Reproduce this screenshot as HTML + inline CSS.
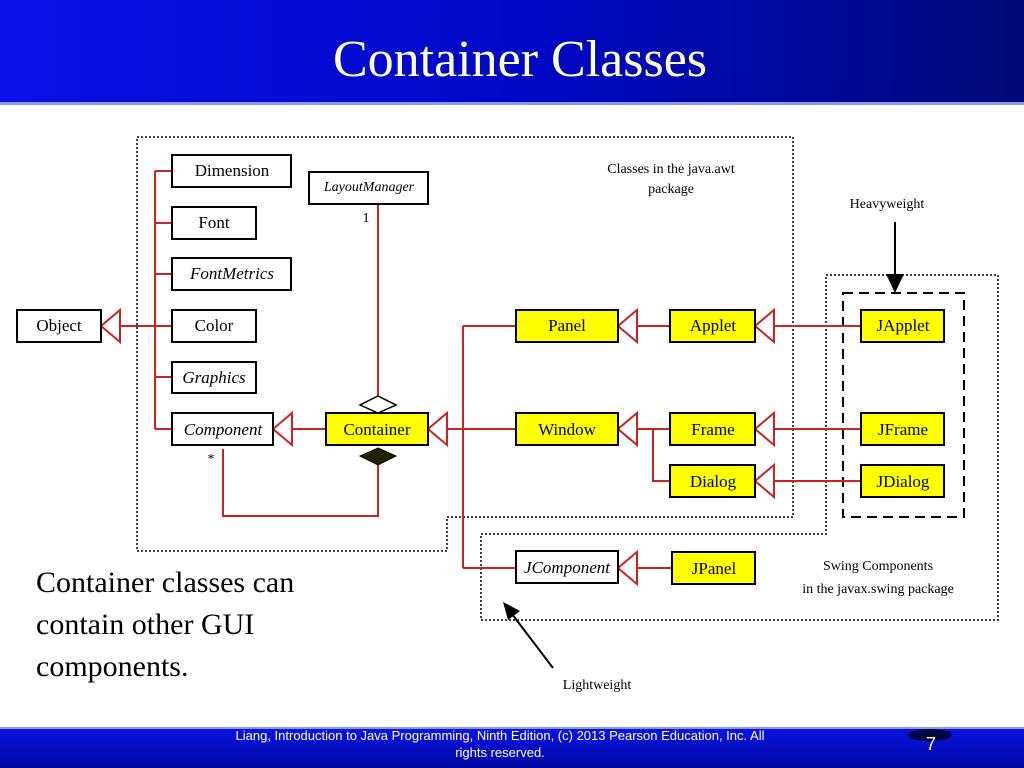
<!DOCTYPE html>
<html><head><meta charset="utf-8"><style>
html,body{margin:0;padding:0;width:1024px;height:768px;overflow:hidden;background:#fff}
</style></head><body>
<svg width="1024" height="768" viewBox="0 0 1024 768" xmlns="http://www.w3.org/2000/svg" font-family="Liberation Serif, serif">
<defs>
<linearGradient id="hg" x1="0" x2="1" y1="0" y2="0">
<stop offset="0" stop-color="#0a12e6"/><stop offset="0.5" stop-color="#0008c8"/><stop offset="1" stop-color="#020a78"/>
</linearGradient>
<linearGradient id="fg" x1="0" x2="0" y1="0" y2="1">
<stop offset="0" stop-color="#0a14e0"/><stop offset="1" stop-color="#0008a0"/>
</linearGradient>
</defs>
<rect x="0" y="0" width="1024" height="102" fill="url(#hg)"/>
<rect x="0" y="102" width="1024" height="3" fill="#8a9af0"/>
<text x="520" y="76" font-size="52" fill="#ffffcc" text-anchor="middle">Container Classes</text>

<!-- dotted boxes -->
<polygon points="137,137 793,137 793,517 447,517 447,551 137,551" fill="none" stroke="#000" stroke-width="1.5" stroke-dasharray="2,2"/>
<polygon points="826,275 998,275 998,620 481,620 481,534 826,534" fill="none" stroke="#000" stroke-width="1.5" stroke-dasharray="2,2"/>
<rect x="843" y="293" width="121" height="224" fill="none" stroke="#000" stroke-width="2" stroke-dasharray="10,6"/>

<!-- red connectors -->
<g stroke="#cc2222" stroke-width="2" fill="none">
<path d="M120,326 H155 M155,171 V429 M155,171 H172 M155,223 H172 M155,274 H172 M155,326 H172 M155,377 H172 M155,429 H172"/>
<path d="M292,429 H326"/>
<path d="M378,205 V396"/>
<path d="M378,465 V516 H223 V449"/>
<path d="M447,429 H516 M463,326 V568 M463,326 H516 M463,568 H516"/>
<path d="M637,326 H670 M774,326 H861"/>
<path d="M637,429 H670 M653,429 V481 H670 M774,429 H861 M774,481 H861"/>
<path d="M637,568 H672"/>
</g>
<!-- triangles -->
<g stroke="#cc2222" stroke-width="2" fill="#fff">
<polygon points="101,326 120,310 120,342"/>
<polygon points="273,429 292,413 292,445"/>
<polygon points="428,429 447,413 447,445"/>
<polygon points="618,326 637,310 637,342"/>
<polygon points="755,326 774,310 774,342"/>
<polygon points="618,429 637,413 637,445"/>
<polygon points="755,429 774,413 774,445"/>
<polygon points="755,481 774,465 774,497"/>
<polygon points="618,568 637,552 637,584"/>
</g>
<polygon points="378,396 396,405 378,413 360,405" fill="#fff" stroke="#000" stroke-width="1.5"/>
<polygon points="378,448 396,456 378,465 360,456" fill="#222200" stroke="#000" stroke-width="1"/>

<!-- boxes -->
<g stroke="#000" stroke-width="2">
<rect x="17" y="310" width="84" height="32" fill="#fff"/>
<rect x="172" y="155" width="119" height="32" fill="#fff"/>
<rect x="172" y="207" width="84" height="32" fill="#fff"/>
<rect x="172" y="258" width="119" height="32" fill="#fff"/>
<rect x="172" y="310" width="84" height="32" fill="#fff"/>
<rect x="172" y="362" width="84" height="31" fill="#fff"/>
<rect x="172" y="413" width="101" height="32" fill="#fff"/>
<rect x="309" y="172" width="119" height="32" fill="#fff"/>
<rect x="326" y="413" width="102" height="32" fill="#ffff00"/>
<rect x="516" y="310" width="102" height="32" fill="#ffff00"/>
<rect x="670" y="310" width="85" height="32" fill="#ffff00"/>
<rect x="861" y="310" width="83" height="32" fill="#ffff00"/>
<rect x="516" y="413" width="102" height="32" fill="#ffff00"/>
<rect x="670" y="413" width="85" height="32" fill="#ffff00"/>
<rect x="670" y="465" width="85" height="32" fill="#ffff00"/>
<rect x="861" y="413" width="83" height="32" fill="#ffff00"/>
<rect x="861" y="465" width="83" height="32" fill="#ffff00"/>
<rect x="516" y="551" width="102" height="32" fill="#fff"/>
<rect x="672" y="552" width="83" height="32" fill="#ffff00"/>
</g>
<g font-size="17" text-anchor="middle" fill="#000">
<text x="59" y="331">Object</text>
<text x="232" y="176">Dimension</text>
<text x="214" y="228">Font</text>
<text x="232" y="279" font-style="italic">FontMetrics</text>
<text x="214" y="331">Color</text>
<text x="214" y="383" font-style="italic">Graphics</text>
<text x="223" y="435" font-style="italic">Component</text>
<text x="377" y="435">Container</text>
<text x="567" y="331">Panel</text>
<text x="713" y="331">Applet</text>
<text x="903" y="331">JApplet</text>
<text x="567" y="435">Window</text>
<text x="713" y="435">Frame</text>
<text x="713" y="487">Dialog</text>
<text x="903" y="435">JFrame</text>
<text x="903" y="487">JDialog</text>
<text x="567" y="573" font-style="italic">JComponent</text>
<text x="714" y="574">JPanel</text>
</g>
<g font-size="14" fill="#000" text-anchor="middle">
<text x="369" y="191" font-style="italic">LayoutManager</text>
<text x="366" y="222">1</text>
<text x="211" y="463">*</text>
<text x="671" y="173">Classes in the java.awt</text>
<text x="671" y="193">package</text>
<text x="887" y="208">Heavyweight</text>
<text x="878" y="570">Swing Components</text>
<text x="878" y="593">in the javax.swing package</text>
<text x="597" y="689">Lightweight</text>
</g>
<!-- black arrows -->
<line x1="895" y1="222" x2="895" y2="278" stroke="#000" stroke-width="2"/>
<polygon points="895,293 886,274 904,274" fill="#000"/>
<line x1="553" y1="668" x2="512" y2="614" stroke="#000" stroke-width="2"/>
<polygon points="503,602 520,611 508,620" fill="#000"/>

<g font-size="30" fill="#000">
<text x="36" y="592">Container classes can</text>
<text x="36" y="634">contain other GUI</text>
<text x="36" y="676">components.</text>
</g>

<rect x="0" y="727" width="1024" height="2" fill="#8a9af0"/>
<rect x="0" y="729" width="1024" height="39" fill="url(#fg)"/>
<ellipse cx="930" cy="735" rx="22" ry="6" fill="#000840"/>
<g font-family="Liberation Sans, sans-serif" font-size="13" fill="#fff" text-anchor="middle">
<text x="500" y="740">Liang, Introduction to Java Programming, Ninth Edition, (c) 2013 Pearson Education, Inc. All</text>
<text x="500" y="757">rights reserved.</text>
</g>
<text x="931" y="750" font-size="18" fill="#fff" text-anchor="middle" font-family="Liberation Sans, sans-serif">7</text>
</svg>
</body></html>
